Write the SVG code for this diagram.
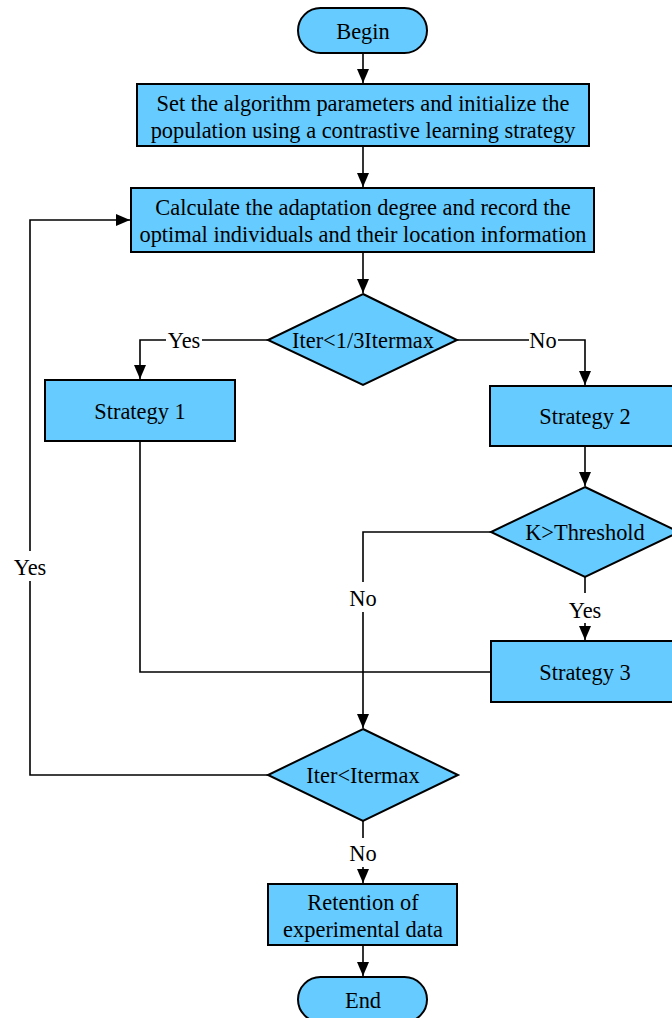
<svg xmlns="http://www.w3.org/2000/svg" width="672" height="1018" viewBox="0 0 672 1018">
<style>
.n{fill:#66CCFF;stroke:#000;stroke-width:2}
.t{font-family:"Liberation Serif","Times New Roman",serif;font-size:22.4px;fill:#000;text-anchor:middle}
.c{fill:none;stroke:#000;stroke-width:1.6}
</style>
<defs>
<marker id="ah" markerWidth="14" markerHeight="12" refX="14" refY="6" orient="auto" markerUnits="userSpaceOnUse"><path d="M0,0 L14,6 L0,12 Z" fill="#000"/></marker>
</defs>
<rect width="672" height="1018" fill="#fff"/>
<g id="connectors">
<path class="c" d="M363,53 V83" marker-end="url(#ah)"/>
<path class="c" d="M363,146 V187" marker-end="url(#ah)"/>
<path class="c" d="M363,252 V293" marker-end="url(#ah)"/>
<path class="c" d="M268,340 H202 M166,340 H140 V379" marker-end="url(#ah)"/>
<path class="c" d="M457,340 H529 M558,340 H585 V385" marker-end="url(#ah)"/>
<path class="c" d="M585,446 V486" marker-end="url(#ah)"/>
<path class="c" d="M585,577 V593 M585,623 V640" marker-end="url(#ah)"/>
<path class="c" d="M491,532 H363 V582 M363,612 V728" marker-end="url(#ah)"/>
<path class="c" d="M140,441 V672 H491"/>
<path class="c" d="M268,775 H30 V581 M30,551 V220 H130" marker-end="url(#ah)"/>
<path class="c" d="M363,821 V838 M363,867 V883" marker-end="url(#ah)"/>
<path class="c" d="M363,945 V976" marker-end="url(#ah)"/>
<text class="t" x="184" y="348">Yes</text>
<text class="t" x="543" y="348">No</text>
<text class="t" x="585" y="618">Yes</text>
<text class="t" x="363" y="606">No</text>
<text class="t" x="30" y="575">Yes</text>
<text class="t" x="363" y="861">No</text>
</g>
<g id="begin"><rect class="n" x="298" y="8" width="129" height="45" rx="22.5"/><text class="t" x="363" y="39">Begin</text></g>
<g id="init"><rect class="n" x="137" y="84" width="452" height="62"/><text class="t" x="363" y="111">Set the algorithm parameters and initialize the</text><text class="t" x="363" y="138">population using a contrastive learning strategy</text></g>
<g id="calc"><rect class="n" x="131" y="188" width="463" height="64"/><text class="t" x="363" y="215">Calculate the adaptation degree and record the</text><text class="t" x="363" y="242">optimal individuals and their location information</text></g>
<g id="dec1"><polygon class="n" points="363,294 457,340 363,385 268,340"/><text class="t" x="363" y="348">Iter&lt;1/3Itermax</text></g>
<g id="s1"><rect class="n" x="45" y="380" width="190" height="61"/><text class="t" x="140" y="419">Strategy 1</text></g>
<g id="s2"><rect class="n" x="490" y="386" width="190" height="60"/><text class="t" x="585" y="424">Strategy 2</text></g>
<g id="dec2"><polygon class="n" points="585,487 679,532 585,577 491,532"/><text class="t" x="585" y="540">K&gt;Threshold</text></g>
<g id="s3"><rect class="n" x="491" y="641" width="190" height="61"/><text class="t" x="585" y="680">Strategy 3</text></g>
<g id="dec3"><polygon class="n" points="363,729 458,775 363,821 268,775"/><text class="t" x="363" y="783">Iter&lt;Itermax</text></g>
<g id="retain"><rect class="n" x="268" y="884" width="189" height="61"/><text class="t" x="363" y="910">Retention of</text><text class="t" x="363" y="937">experimental data</text></g>
<g id="end"><rect class="n" x="298" y="977" width="129" height="45" rx="22.5"/><text class="t" x="363" y="1008">End</text></g>
</svg>
